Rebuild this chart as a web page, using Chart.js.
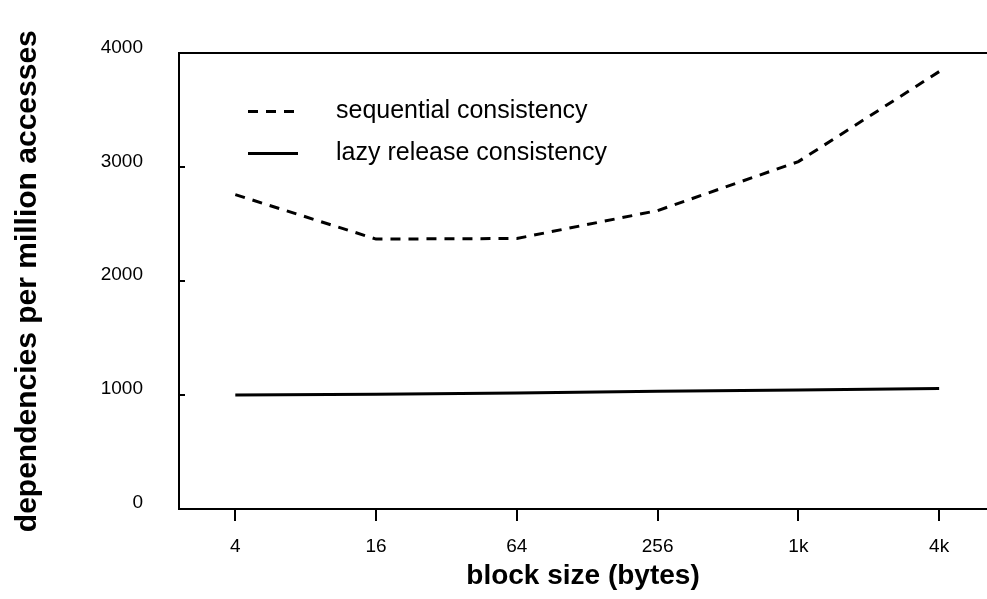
<!DOCTYPE html>
<html>
<head>
<meta charset="utf-8">
<script src="https://cdn.jsdelivr.net/npm/chart.js@4.4.1/dist/chart.umd.min.js"></script>
<style>
  html, body { margin: 0; padding: 0; background: #fff; }
  #wrap { position: relative; width: 987px; height: 599px; }
</style>
</head>
<body>
<div id="wrap"><canvas id="c"></canvas></div>
<script>
const categories = ['4', '16', '64', '256', '1k', '4k'];
const sequentialConsistency = [2760, 2370, 2375, 2620, 3050, 3840];
const lazyReleaseConsistency = [1000, 1008, 1018, 1033, 1045, 1057];
const yTicks = [0, 1000, 2000, 3000, 4000];
const seriesNames = ['sequential consistency', 'lazy release consistency'];

const FONT = '"Liberation Sans", Arial, Helvetica, sans-serif';
Chart.defaults.color = '#000';
Chart.defaults.font.family = FONT;

const toPoints = arr => arr.map((v, i) => ({ x: i, y: v }));

const insideLegend = {
  id: 'insideLegend',
  afterDatasetsDraw(chart, args, opts) {
    const { ctx, chartArea } = chart;
    ctx.save();
    chart.data.datasets.forEach((ds, i) => {
      const y = chartArea.top + opts.top + i * opts.rowGap;
      const x0 = chartArea.left + opts.left;
      ctx.beginPath();
      ctx.setLineDash(ds.borderDash || []);
      ctx.lineWidth = ds.borderWidth;
      ctx.strokeStyle = ds.borderColor;
      ctx.moveTo(x0, y);
      ctx.lineTo(x0 + opts.sampleWidth, y);
      ctx.stroke();
      ctx.setLineDash([]);
      ctx.fillStyle = '#000';
      ctx.font = opts.font;
      ctx.textBaseline = 'middle';
      ctx.textAlign = 'left';
      ctx.fillText(ds.label, x0 + opts.textOffset, y);
    });
    ctx.restore();
  }
};

new Chart(document.getElementById('c'), {
  type: 'line',
  data: {
    datasets: [
      {
        label: seriesNames[0],
        data: toPoints(sequentialConsistency),
        borderColor: '#000',
        borderWidth: 3,
        borderDash: [10, 8],
        pointRadius: 0,
        fill: false,
        tension: 0
      },
      {
        label: seriesNames[1],
        data: toPoints(lazyReleaseConsistency),
        borderColor: '#000',
        borderWidth: 3,
        pointRadius: 0,
        fill: false,
        tension: 0
      }
    ]
  },
  options: {
    responsive: true,
    maintainAspectRatio: false,
    animation: false,
    devicePixelRatio: 1,
    layout: { padding: { top: 44, right: 0, bottom: 0, left: 0 } },
    plugins: {
      legend: { display: false },
      tooltip: { enabled: false },
      insideLegend: {
        top: 58, rowGap: 42, left: 69, sampleWidth: 50, textOffset: 88,
        font: '25px ' + FONT
      }
    },
    scales: {
      x: {
        type: 'linear',
        position: 'bottom',
        min: -0.4,
        max: 5.34,
        afterFit: s => { s.height = 90; },
        afterBuildTicks: s => { s.ticks = categories.map((c, i) => ({ value: i })); },
        ticks: {
          callback: v => categories[v],
          font: { size: 19 },
          padding: 14,
          maxRotation: 0
        },
        grid: { drawOnChartArea: false, drawTicks: true, tickLength: 12, color: '#000', lineWidth: 2 },
        border: { display: true, color: '#000', width: 2 },
        title: {
          display: true,
          text: 'block size (bytes)',
          font: { size: 28, weight: 'bold' },
          padding: { top: 0, bottom: 6 }
        }
      },
      xTop: {
        type: 'linear',
        position: 'top',
        min: -0.4,
        max: 5.34,
        afterFit: s => { s.height = 0; },
        ticks: { display: false },
        grid: { display: false, drawTicks: false, drawOnChartArea: false },
        border: { display: true, color: '#000', width: 2 }
      },
      y: {
        min: 0,
        max: 4000,
        afterFit: s => { s.width = 179; },
        afterBuildTicks: s => { s.ticks = yTicks.map(v => ({ value: v })); },
        ticks: {
          callback: v => String(v),
          font: { size: 19 },
          padding: 42,
          labelOffset: -6
        },
        grid: { drawOnChartArea: false, drawTicks: true, tickLength: -6, color: '#000', lineWidth: 2 },
        border: { display: true, color: '#000', width: 2 },
        title: {
          display: true,
          text: 'dependencies per million accesses',
          font: { size: 30, weight: 'bold' },
          padding: { top: 10, bottom: 0 }
        }
      }
    }
  },
  plugins: [insideLegend]
});
</script>
</body>
</html>
